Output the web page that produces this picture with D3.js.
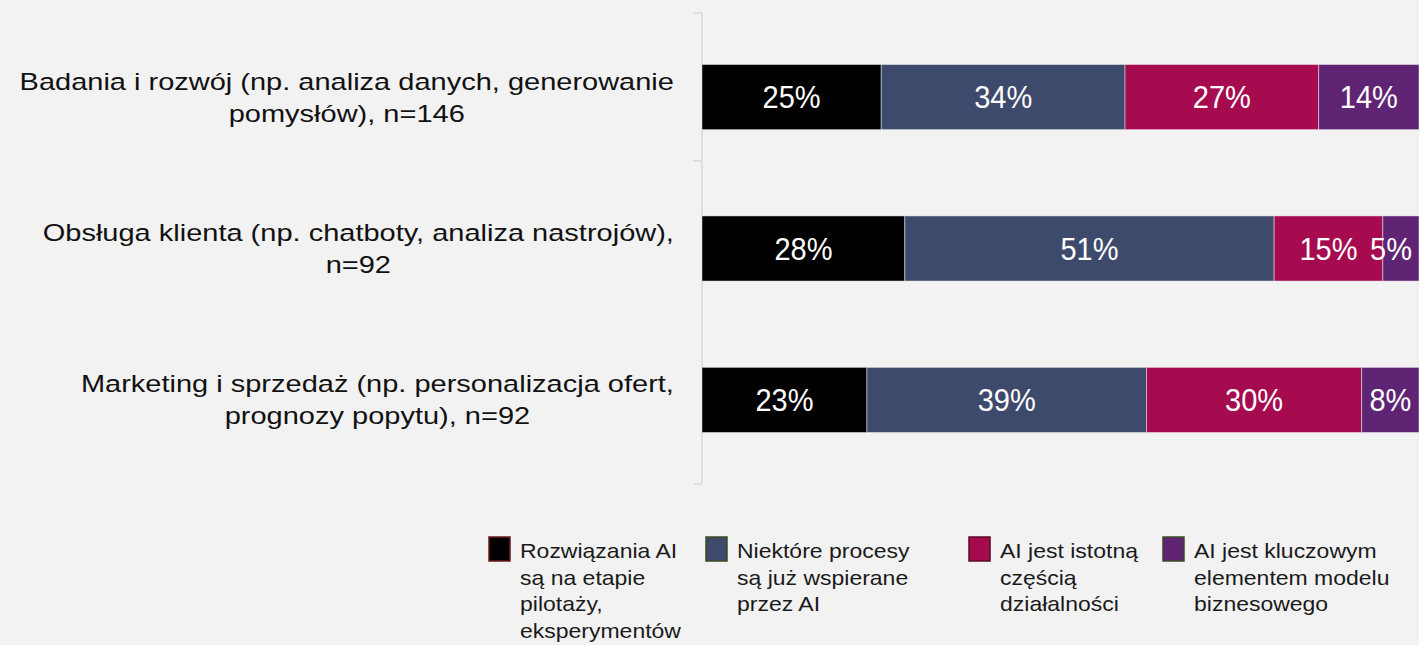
<!DOCTYPE html>
<html>
<head>
<meta charset="utf-8">
<script src="https://cdn.jsdelivr.net/npm/d3@7"></script>
<style>
  html, body { margin: 0; padding: 0; background: #f2f2f2; }
  svg { display: block; font-family: "Liberation Sans", Arial, sans-serif; }
</style>
</head>
<body>
<div id="chart"></div>
<script>
// --------------- Data ---------------
const categories = [
  ["Badania i rozwój (np. analiza danych, generowanie", "pomysłów), n=146"],
  ["Obsługa klienta (np. chatboty, analiza nastrojów),", "n=92"],
  ["Marketing i sprzedaż (np. personalizacja ofert,", "prognozy popytu), n=92"],
];
const seriesKeys = ["pilot", "partial", "significant", "key"];
const seriesLabels = [
  ["Rozwiązania AI", "są na etapie", "pilotaży,", "eksperymentów"],
  ["Niektóre procesy", "są już wspierane", "przez AI"],
  ["AI jest istotną", "częścią", "działalności"],
  ["AI jest kluczowym", "elementem modelu", "biznesowego"],
];
const pilot = [25, 28, 23];
const partial = [34, 51, 39];
const significant = [27, 15, 30];
const keyPart = [14, 5, 8];

const COLORS = ["#000000", "#3e4a6b", "#a50b4e", "#5f2473"];
const SWATCH_STROKE = ["#6a1a1a", "#3d4a22", "#5a0a28", "#3d4a22"];

// --------------- Layout ---------------
const WIDTH = 1419;
const HEIGHT = 645;
const AXIS_X = 702;
const AXIS_TOP = 13;
const AXIS_BOTTOM = 484;
const LABEL_RIGHT = 674;
const LEGEND_X = [489, 706, 969, 1163];
const LEGEND_BASELINE = 558;
const LEGEND_LINE = 26.7;

const rows = categories.map((c, i) => ({
  cat: i,
  pilot: pilot[i],
  partial: partial[i],
  significant: significant[i],
  key: keyPart[i],
}));

const stacked = d3.stack().keys(seriesKeys).offset(d3.stackOffsetExpand)(rows);

const x = d3.scaleLinear().domain([0, 1]).range([AXIS_X, WIDTH]);
const y = d3
  .scaleBand()
  .domain(d3.range(categories.length))
  .range([AXIS_TOP, AXIS_BOTTOM])
  .paddingInner(0.57)
  .paddingOuter(0.34);

const svg = d3
  .select("#chart")
  .append("svg")
  .attr("width", WIDTH)
  .attr("height", HEIGHT);

svg.append("rect").attr("width", WIDTH).attr("height", HEIGHT).attr("fill", "#f2f2f2");

// Axis spine with ticks
const axisG = svg.append("g").attr("stroke", "#d9d9d9").attr("stroke-width", 1.5);
axisG
  .append("line")
  .attr("x1", AXIS_X)
  .attr("x2", AXIS_X)
  .attr("y1", AXIS_TOP)
  .attr("y2", AXIS_BOTTOM);
const tickYs = [AXIS_TOP, y(0) + y.bandwidth() + (y.step() * y.paddingInner()) / 2 - 12, AXIS_BOTTOM];
axisG
  .selectAll("line.tick")
  .data(tickYs)
  .enter()
  .append("line")
  .attr("class", "tick")
  .attr("x1", AXIS_X - 9)
  .attr("x2", AXIS_X)
  .attr("y1", (d) => d)
  .attr("y2", (d) => d);

// Bars
const layers = svg
  .append("g")
  .selectAll("g")
  .data(stacked)
  .enter()
  .append("g")
  .attr("fill", (_d, i) => COLORS[i]);

layers
  .selectAll("rect")
  .data((d) => d)
  .enter()
  .append("rect")
  .attr("x", (d) => x(d[0]))
  .attr("width", (d) => x(d[1]) - x(d[0]))
  .attr("y", (d) => y(d.data.cat))
  .attr("height", y.bandwidth())
  .attr("stroke", "#ffffff")
  .attr("stroke-opacity", 0.45)
  .attr("stroke-width", 1);

// Data labels (shifted left if they would run past the right edge)
const LABEL_SCALE = 1.05;
layers
  .selectAll("text")
  .data((d) => d.map((p) => ({ p, key: d.key })))
  .enter()
  .append("text")
  .attr("text-anchor", "middle")
  .attr("fill", "#ffffff")
  .attr("font-size", 29)
  .text((d) => `${d.p.data[d.key]}%`)
  .attr("transform", function (d) {
    const w = this.getComputedTextLength();
    let cx = (x(d.p[0]) + x(d.p[1])) / 2;
    cx = Math.min(cx, WIDTH - 7 - w / 2);
    const cy = y(d.p.data.cat) + y.bandwidth() / 2 + 11;
    return `translate(${cx},${cy}) scale(1,${LABEL_SCALE})`;
  });

// Category labels
const CAT_SCALE = 0.85;
const CAT_LINE = 32;
categories.forEach((lines, i) => {
  const cy = y(i) + y.bandwidth() / 2;
  const g = svg.append("g");
  const texts = lines.map((line) =>
    g
      .append("text")
      .attr("text-anchor", "middle")
      .attr("font-size", 29)
      .attr("fill", "#111")
      .text(line)
  );
  const maxW = d3.max(texts, (t) => t.node().getComputedTextLength());
  const cx = LABEL_RIGHT - maxW / 2;
  texts.forEach((t, j) => {
    const by = cy + (j - (lines.length - 1) / 2) * CAT_LINE + 8.5;
    t.attr("transform", `translate(${cx},${by}) scale(1,${CAT_SCALE})`);
  });
});

// Legend
const LEG_SCALE = 0.85;
const legend = svg
  .append("g")
  .selectAll("g")
  .data(seriesLabels)
  .enter()
  .append("g")
  .attr("transform", (_d, i) => `translate(${LEGEND_X[i]},0)`);

legend
  .append("rect")
  .attr("x", 0)
  .attr("y", 537)
  .attr("width", 21)
  .attr("height", 24)
  .attr("fill", (_d, i) => COLORS[i])
  .attr("stroke", (_d, i) => SWATCH_STROKE[i])
  .attr("stroke-width", 1.5);

legend
  .selectAll("text")
  .data((d) => d)
  .enter()
  .append("text")
  .attr("font-size", 23)
  .attr("fill", "#1a1a1a")
  .attr("transform", (_d, j) => `translate(31,${LEGEND_BASELINE + j * LEGEND_LINE}) scale(1,${LEG_SCALE})`)
  .text((d) => d);
</script>
</body>
</html>
